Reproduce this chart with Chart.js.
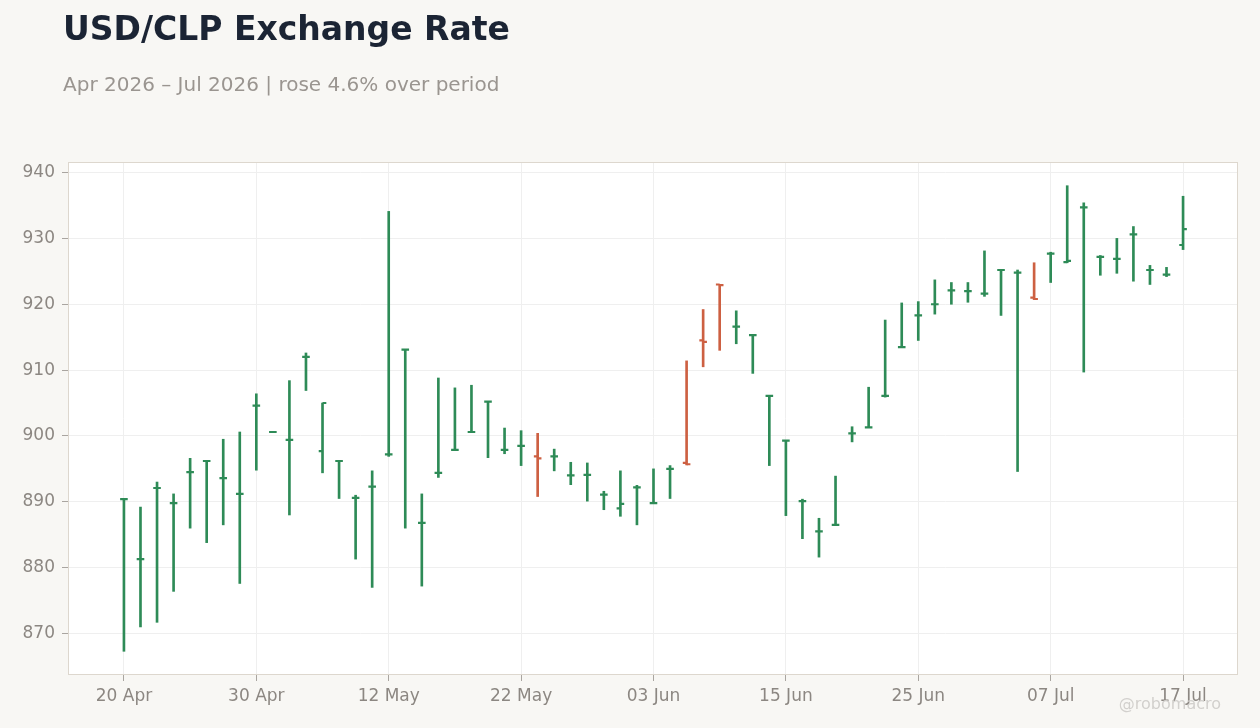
<!DOCTYPE html>
<html>
<head>
<meta charset="utf-8">
<script src="https://cdn.jsdelivr.net/npm/chart.js@4.4.1/dist/chart.umd.min.js"></script>
<style>
  html, body { margin: 0; padding: 0; background: #f8f7f4; }
  #wrap { position: relative; width: 1260px; height: 728px; font-family: "DejaVu Sans", sans-serif; }
  #title { position: absolute; left: 63px; top: 12px; font-size: 33px; line-height: 1; font-weight: bold; color: #1b2434; white-space: nowrap; }
  #subtitle { position: absolute; left: 63px; top: 74px; font-size: 20px; line-height: 1; color: #9a9590; white-space: nowrap; }
  #mark { position: absolute; right: 39px; top: 696px; font-size: 16px; line-height: 1; color: #d2d0cd; white-space: nowrap; }
  canvas { position: absolute; left: 0; top: 0; }
</style>
</head>
<body>
<div id="wrap">
  <canvas id="ohlcChart" width="1260" height="728"></canvas>
  <div id="title">USD/CLP Exchange Rate</div>
  <div id="subtitle">Apr 2026 – Jul 2026 | rose 4.6% over period</div>
  <div id="mark">@robomacro</div>
</div>
<script>
// trading days
const dates = [
  '2026-04-20','2026-04-21','2026-04-22','2026-04-23','2026-04-24',
  '2026-04-27','2026-04-28','2026-04-29','2026-04-30','2026-05-01',
  '2026-05-04','2026-05-05','2026-05-06','2026-05-07','2026-05-08',
  '2026-05-11','2026-05-12','2026-05-13','2026-05-14','2026-05-15',
  '2026-05-18','2026-05-19','2026-05-20','2026-05-21','2026-05-22',
  '2026-05-25','2026-05-26','2026-05-27','2026-05-28','2026-05-29',
  '2026-06-01','2026-06-02','2026-06-03','2026-06-04','2026-06-05',
  '2026-06-08','2026-06-09','2026-06-10','2026-06-11','2026-06-12',
  '2026-06-15','2026-06-16','2026-06-17','2026-06-18','2026-06-19',
  '2026-06-22','2026-06-23','2026-06-24','2026-06-25','2026-06-26',
  '2026-06-29','2026-06-30','2026-07-01','2026-07-02','2026-07-03',
  '2026-07-06','2026-07-07','2026-07-08','2026-07-09','2026-07-10',
  '2026-07-13','2026-07-14','2026-07-15','2026-07-16','2026-07-17'
];
const opens = [
  890.4, 881.3, 892.1, 889.8, 894.5, 896.2, 893.6, 891.2, 904.6, 900.6,
  899.4, 912.0, 897.7, 896.2, 890.6, 892.3, 897.2, 913.1, 886.8, 894.4,
  897.9, 900.6, 905.2, 897.9, 898.5, 896.9, 896.9, 894.0, 894.1, 891.1,
  889.0, 892.2, 889.8, 895.0, 895.9, 914.5, 923.0, 916.6, 915.3, 906.1,
  899.3, 890.1, 885.5, 886.5, 900.4, 901.3, 906.1, 913.5, 918.3, 920.0,
  922.1, 922.0, 921.6, 925.2, 924.8, 921.0, 927.7, 926.4, 934.7, 927.2,
  926.9, 930.6, 925.2, 924.5, 929.0
];
const highs = [
  890.4, 889.2, 893.0, 891.2, 896.6, 896.2, 899.5, 900.6, 906.4, 900.6,
  908.4, 912.6, 905.0, 896.2, 891.0, 894.7, 934.1, 913.1, 891.2, 908.8,
  907.3, 907.7, 905.2, 901.2, 900.8, 900.4, 898.0, 896.0, 895.9, 891.6,
  894.7, 892.5, 895.0, 895.5, 911.4, 919.2, 923.0, 919.0, 915.3, 906.1,
  899.3, 890.4, 887.5, 893.9, 901.4, 907.4, 917.6, 920.2, 920.4, 923.7,
  923.3, 923.3, 928.1, 925.2, 925.2, 926.3, 927.9, 938.0, 935.4, 927.4,
  930.0, 931.8, 925.9, 925.6, 936.4
];
const lows = [
  867.3, 871.0, 871.7, 876.4, 886.0, 883.8, 886.5, 877.6, 894.8, 900.6,
  888.0, 906.9, 894.4, 890.5, 881.3, 877.0, 896.9, 886.0, 877.2, 893.7,
  897.9, 900.6, 896.7, 897.3, 895.5, 890.8, 894.7, 892.6, 890.1, 888.8,
  887.8, 886.5, 889.8, 890.5, 895.6, 910.5, 913.0, 914.0, 909.5, 895.5,
  887.9, 884.4, 881.6, 886.5, 899.1, 901.3, 905.9, 913.5, 914.5, 918.5,
  920.0, 920.3, 921.2, 918.3, 894.6, 920.7, 923.3, 926.3, 909.7, 924.4,
  924.7, 923.5, 923.0, 924.2, 928.3
];
const closes = [
  890.4, 881.3, 892.1, 889.8, 894.5, 896.2, 893.6, 891.2, 904.6, 900.6,
  899.4, 912.0, 905.0, 896.2, 890.6, 892.3, 897.2, 913.1, 886.8, 894.4,
  897.9, 900.6, 905.2, 897.9, 898.5, 896.6, 896.9, 894.0, 894.1, 891.1,
  889.7, 892.2, 889.8, 895.0, 895.7, 914.3, 922.9, 916.6, 915.3, 906.1,
  899.3, 890.1, 885.5, 886.5, 900.4, 901.3, 906.1, 913.5, 918.3, 920.0,
  922.1, 922.0, 921.6, 925.2, 924.8, 920.8, 927.7, 926.6, 934.7, 927.2,
  926.9, 930.6, 925.2, 924.5, 931.4
];
const yTicks = [870, 880, 890, 900, 910, 920, 930, 940];
const labelEvery = 8;

const UP = '#2e8b57';
const DOWN = '#cd6042';
const MONTHS = ['Jan','Feb','Mar','Apr','May','Jun','Jul','Aug','Sep','Oct','Nov','Dec'];

function fmtDate(s) {
  const p = s.split('-');
  return p[2] + ' ' + MONTHS[parseInt(p[1], 10) - 1];
}
const barColor = i => (closes[i] >= opens[i] ? UP : DOWN);

Chart.defaults.font.family = '"DejaVu Sans", sans-serif';
Chart.defaults.color = '#8c8782';

// white plot area + thin frame
const plotFrame = {
  id: 'plotFrame',
  beforeDraw(chart) {
    const a = chart.chartArea, ctx = chart.ctx;
    ctx.save();
    ctx.fillStyle = '#ffffff';
    ctx.fillRect(a.left, a.top, a.right - a.left, a.bottom - a.top);
    ctx.restore();
  },
  afterDraw(chart) {
    const a = chart.chartArea, ctx = chart.ctx;
    ctx.save();
    ctx.strokeStyle = '#ddd7ce';
    ctx.lineWidth = 1;
    ctx.strokeRect(a.left + 0.5, a.top + 0.5, a.right - a.left - 1, a.bottom - a.top - 1);
    ctx.restore();
  }
};

// open (left) and close (right) ticks
const ohlcTicks = {
  id: 'ohlcTicks',
  afterDatasetsDraw(chart) {
    const xs = chart.scales.x, ys = chart.scales.y, ctx = chart.ctx;
    const a = chart.chartArea;
    ctx.save();
    ctx.beginPath();
    ctx.rect(a.left, a.top, a.right - a.left, a.bottom - a.top);
    ctx.clip();
    ctx.lineWidth = 2.2;
    opens.forEach((o, i) => {
      const px = xs.getPixelForValue(i);
      const yo = ys.getPixelForValue(o);
      const yc = ys.getPixelForValue(closes[i]);
      ctx.strokeStyle = barColor(i);
      ctx.beginPath();
      ctx.moveTo(px - 3.8, yo);
      ctx.lineTo(px, yo);
      ctx.moveTo(px, yc);
      ctx.lineTo(px + 3.8, yc);
      ctx.stroke();
    });
    ctx.restore();
  }
};

new Chart(document.getElementById('ohlcChart'), {
  type: 'bar',
  data: {
    datasets: [{
      label: 'USD/CLP',
      data: dates.map((d, i) => ({ x: i, y: [lows[i], highs[i]] })),
      backgroundColor: ctx => barColor(ctx.dataIndex),
      borderWidth: 0,
      barThickness: 2,
      grouped: false
    }]
  },
  options: {
    responsive: false,
    animation: false,
    layout: { padding: { top: 162, right: 22, left: 0, bottom: 0 } },
    plugins: {
      legend: { display: false },
      tooltip: { enabled: false }
    },
    scales: {
      x: {
        type: 'linear',
        offset: false,
        min: -3.38,
        max: 67.32,
        afterBuildTicks: s => {
          s.ticks = dates.map((d, i) => i).filter(i => i % labelEvery === 0).map(v => ({ value: v }));
        },
        afterFit: s => { s.height = 53; },
        grid: { offset: false, color: '#efefef', lineWidth: 1, tickLength: 6, tickColor: '#a9a5a0' },
        border: { display: false },
        ticks: {
          font: { size: 17 },
          padding: 5,
          maxRotation: 0,
          callback: v => fmtDate(dates[v])
        }
      },
      y: {
        min: 863.7,
        max: 941.6,
        afterBuildTicks: s => { s.ticks = yTicks.map(v => ({ value: v })); },
        afterFit: s => { s.width = 68; },
        grid: { color: '#efefef', lineWidth: 1, tickLength: 6, tickColor: '#a9a5a0' },
        border: { display: false },
        ticks: {
          font: { size: 17 },
          padding: 7,
          callback: v => String(v)
        }
      }
    }
  },
  plugins: [plotFrame, ohlcTicks]
});
</script>
</body>
</html>
